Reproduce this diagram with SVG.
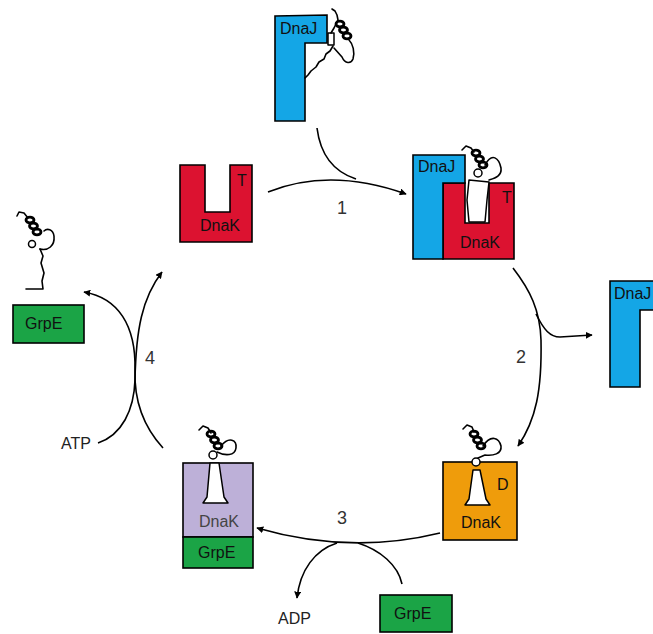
<svg xmlns="http://www.w3.org/2000/svg" width="653" height="634" viewBox="0 0 653 634">
  <style>
    .box { stroke: #000; stroke-width: 1.6; }
    .dnaj { fill: #14a6e6; }
    .dnakT { fill: #dc1230; }
    .dnakD { fill: #ef9c0b; }
    .dnakE { fill: #bdb0d8; }
    .grpe { fill: #1ba446; }
    .lbl { font-family: "Liberation Sans", Arial, sans-serif; font-size: 16px; fill: #111; }
    .side { font-size: 16px; fill: #222; }
    .num { font-family: "Liberation Sans", Arial, sans-serif; font-size: 18px; fill: #333; }
    .chain { fill: none; stroke: #000; stroke-width: 1.6; stroke-linejoin: round; stroke-linecap: round; }
    .helix { fill: none; stroke: #000; stroke-width: 2.8; }
    .body { fill: #fff; stroke: #000; stroke-width: 1.5; stroke-linejoin: round; }
    .link { fill: none; stroke: #000; stroke-width: 1.6; }
  </style>
  <defs>
    <marker id="arrow" viewBox="0 0 10 10" refX="9" refY="5" markerWidth="7" markerHeight="7" markerUnits="userSpaceOnUse" orient="auto">
      <path d="M0,0 L10,5 L0,10 Z" fill="#000"/>
    </marker>
    <!-- folded substrate: a short helix of three coils -->
    <g id="helix3">
      <ellipse cx="0" cy="0" rx="4" ry="2.8" class="helix"/>
      <ellipse cx="3.5" cy="6" rx="4" ry="2.8" class="helix"/>
      <ellipse cx="7" cy="12" rx="4" ry="2.8" class="helix"/>
    </g>
  </defs>

  <!-- connectors -->
  <g id="connectors">
    <!-- step 1 -->
    <path class="link" d="M268,192 Q330,167 406,194" marker-end="url(#arrow)"/>
    <path class="link" d="M317,128 Q322,168 356,179"/>
    <!-- step 2 -->
    <path class="link" d="M513,268 C530,290 540,310 541,340 C542,390 536,420 518,446" marker-end="url(#arrow)"/>
    <path class="link" d="M536,314 C544,330 550,337 560,337 L592,335" marker-end="url(#arrow)"/>
    <!-- step 3 -->
    <path class="link" d="M440,533 Q350,555 257,528" marker-end="url(#arrow)"/>
    <path class="link" d="M337,543 C315,550 300,570 297,598" marker-end="url(#arrow)"/>
    <path class="link" d="M358,543 C380,550 398,565 402,584"/>
    <!-- step 4 -->
    <path class="link" d="M163,448 C142,425 134,400 135,370 C136,325 118,298 84,292" marker-end="url(#arrow)"/>
    <path class="link" d="M98,443 C122,435 134,410 135,380 C136,330 142,298 162,272" marker-end="url(#arrow)"/>
    <text class="num" x="337" y="214">1</text>
    <text class="num" x="516" y="363">2</text>
    <text class="num" x="337" y="524">3</text>
    <text class="num" x="145" y="364">4</text>
    <text class="lbl side" x="61" y="449">ATP</text>
    <text class="lbl side" x="278" y="624">ADP</text>
  </g>

  <!-- DnaJ carrying an unfolded substrate -->
  <g id="dnaj-top">
    <path class="box dnaj" d="M275,16 L327,15 L327,43 L305,43 L305,121 L275,121 Z"/>
    <text class="lbl" x="280" y="34">DnaJ</text>
    <rect x="328" y="33" width="6" height="12" class="body"/>
    <path class="chain" d="M333,46 l-3,5 l-4,3 l-2,5 l-5,3 l-3,5 l-5,4 l-3,4 l-3,3"/>
    <path class="chain" d="M331,33 l3,-5 l2,-4 M336,24 l2,-4 l-1,-5 l-2,-4 l-3,-2"/>
    <use href="#helix3" x="340" y="24"/>
    <path class="chain" d="M349,40 C353,44 355,52 353,59 C351,64 345,64 342,57 L334,48"/>
  </g>

  <!-- DnaK in the ATP state -->
  <g id="dnak-t">
    <path class="box dnakT" d="M180,165 L205,165 L205,212 L230,212 L230,165 L252,165 L252,242 L180,242 Z"/>
    <text class="lbl" x="237" y="186">T</text>
    <text class="lbl" x="200" y="231">DnaK</text>
  </g>

  <!-- DnaJ / DnaK / substrate complex -->
  <g id="complex">
    <path class="box dnakT" d="M443,183 L465,183 L465,223 L489,223 L489,183 L514,183 L514,259 L443,259 Z"/>
    <path class="box dnaj" d="M413,155 L465,155 L465,183 L443,183 L443,259 L413,259 Z"/>
    <path class="body" d="M469,180 L467,200 L469,222 L485,222 L487,200 L489,182 Z"/>
    <circle cx="478" cy="173" r="4" class="body"/>
    <path class="chain" d="M462,150 l4,-4 l5,2 l3,4"/>
    <use href="#helix3" x="476" y="153"/>
    <path class="chain" d="M485,165 C492,152 499,158 501,168 C502,176 495,178 489,180"/>
    <text class="lbl" x="418" y="172">DnaJ</text>
    <text class="lbl" x="502" y="203">T</text>
    <text class="lbl" x="460" y="248">DnaK</text>
  </g>

  <!-- released DnaJ -->
  <g id="dnaj-free">
    <path class="box dnaj" d="M610,281 L660,281 L660,310 L640,310 L640,387 L610,387 Z"/>
    <text class="lbl" x="614" y="299">DnaJ</text>
  </g>

  <!-- DnaK in the ADP state holding substrate -->
  <g id="dnak-d">
    <rect class="box dnakD" x="443" y="462" width="74" height="78"/>
    <path class="body" d="M473,470 L469,499 L465,505 L490,505 L486,499 L480,470 Z"/>
    <circle cx="476" cy="462" r="4" class="body"/>
    <path class="chain" d="M463,429 l4,-4 l5,2 l2,5"/>
    <use href="#helix3" x="474" y="434"/>
    <path class="chain" d="M483,446 C491,434 499,438 501,446 C502,454 493,456 485,455 L478,458"/>
    <text class="lbl" x="497" y="490">D</text>
    <text class="lbl" x="461" y="528">DnaK</text>
  </g>

  <!-- DnaK bound to GrpE -->
  <g id="dnak-grpe">
    <rect class="box dnakE" x="183" y="463" width="70" height="74"/>
    <rect class="box grpe" x="183" y="537" width="70" height="31"/>
    <path class="body" d="M210,463 L207,497 L203,503 L228,503 L224,497 L219,463 Z"/>
    <circle cx="213" cy="455" r="4" class="body"/>
    <path class="chain" d="M199,430 l4,-4 l5,2 l3,5"/>
    <use href="#helix3" x="211" y="434"/>
    <path class="chain" d="M221,446 C229,436 237,440 236,448 C235,456 225,456 217,452"/>
    <text class="lbl" x="199" y="527" style="fill:#444">DnaK</text>
    <text class="lbl" x="198" y="558">GrpE</text>
  </g>

  <!-- free GrpE with released substrate -->
  <g id="grpe-left">
    <rect class="box grpe" x="13" y="305" width="71" height="38"/>
    <text class="lbl" x="25" y="329">GrpE</text>
    <path class="chain" d="M26,289 L43,289 L42,281 L44,273 L41,263 L43,256 L40,249"/>
    <circle cx="32" cy="244" r="3.5" class="body"/>
    <path class="chain" d="M40,249 C48,251 55,246 54,236 C53,229 47,228 44,231"/>
    <use href="#helix3" x="30" y="220"/>
    <path class="chain" d="M28,218 l-4,-5 l-5,-1 l-2,4"/>
  </g>

  <!-- incoming GrpE -->
  <g id="grpe-bottom">
    <rect class="box grpe" x="380" y="595" width="72" height="37"/>
    <text class="lbl" x="394" y="619">GrpE</text>
  </g>
</svg>
